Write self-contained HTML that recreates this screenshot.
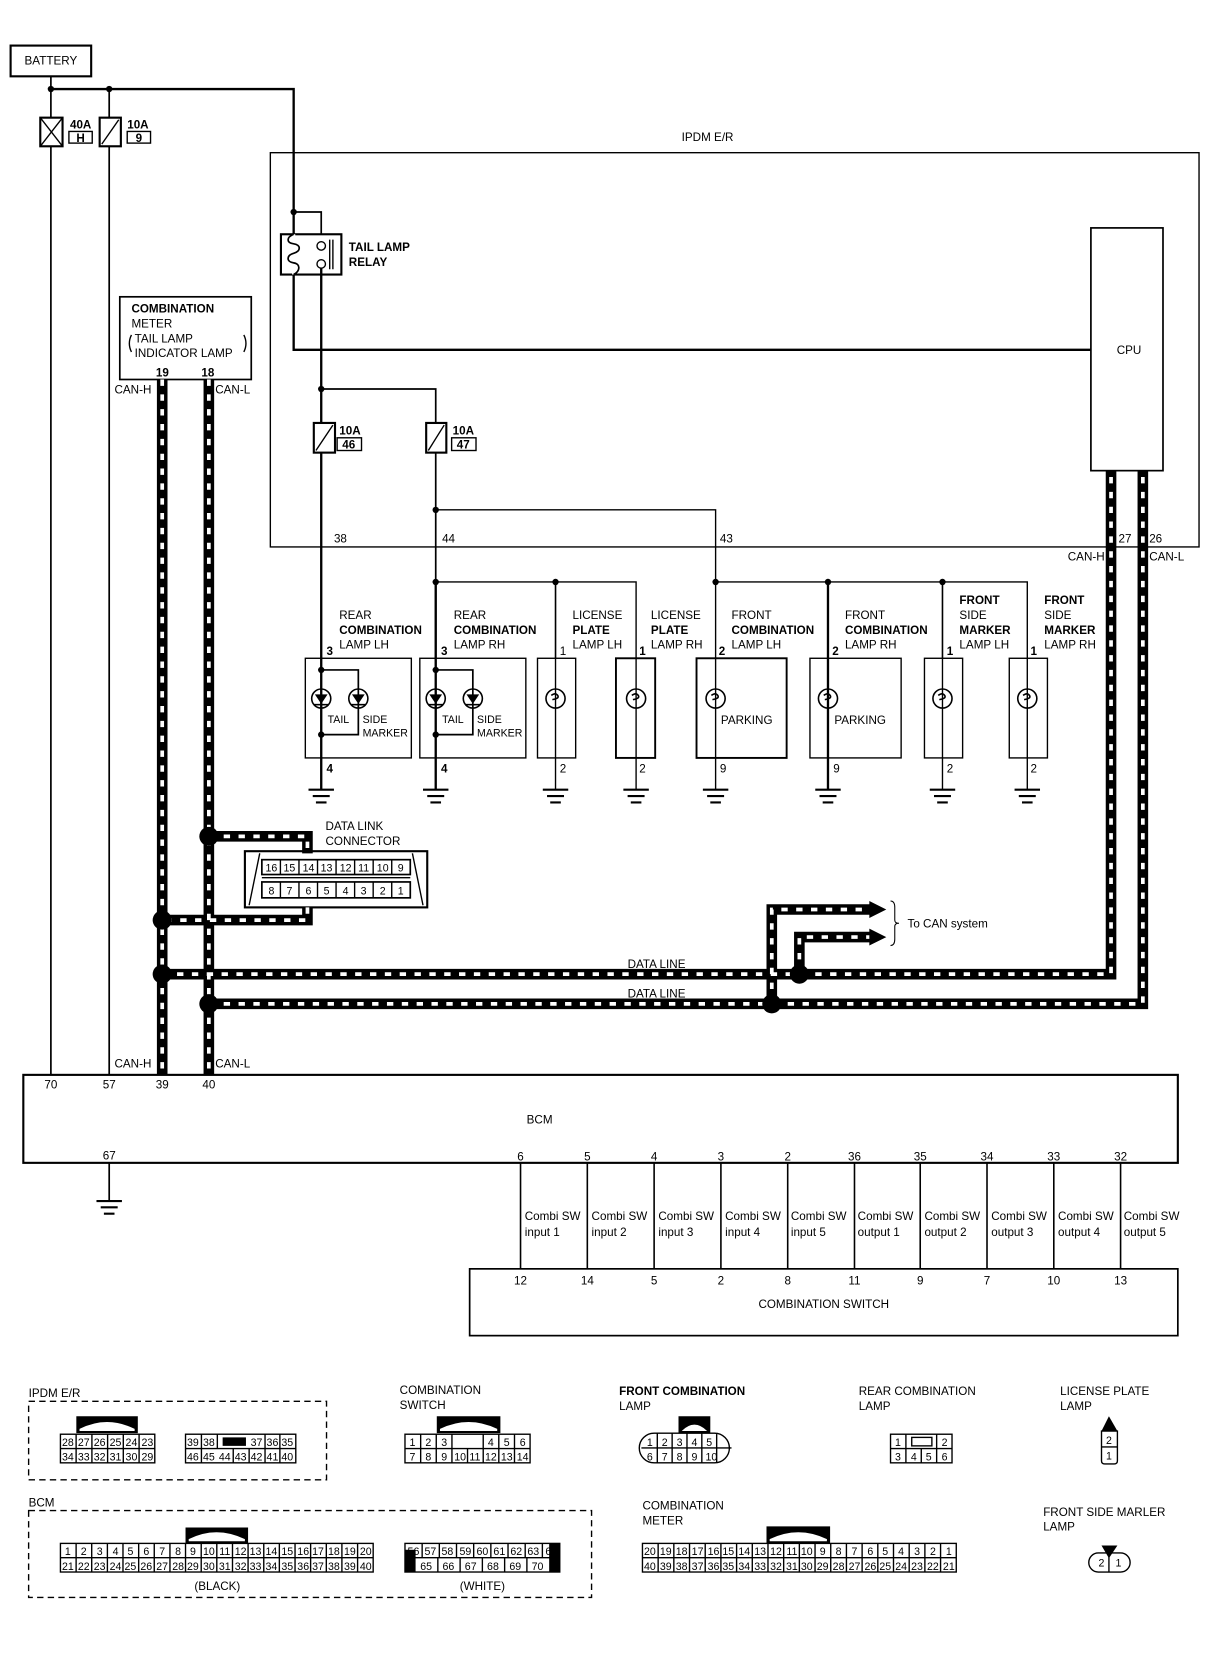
<!DOCTYPE html>
<html><head><meta charset="utf-8"><style>
html,body{margin:0;padding:0;background:#fff}
svg{display:block}
text{font-family:"Liberation Sans",Arial,sans-serif;font-size:11px;fill:#000}
.b{font-weight:bold}
.s{font-size:10px}
.g text{font-size:10px;text-anchor:middle}
</style></head><body>
<svg width="1216" height="1660" viewBox="0 0 1147 1566" preserveAspectRatio="none" xmlns="http://www.w3.org/2000/svg">
<g fill="none" stroke="#000" stroke-width="1.3">
<rect x="10" y="43" width="76" height="29" stroke-width="2"/>
<path d="M48 72V111M48 138V1014M103 84V111M103 138V1014" stroke-width="1.6"/>
<path d="M48 84H277V330H1029" stroke-width="2.2"/>
<rect x="38" y="111" width="21" height="27" stroke-width="2"/>
<path d="M38 111L59 138M59 111L38 138"/>
<rect x="94" y="111" width="20" height="27" stroke-width="2"/>
<path d="M96 136L112 113"/>
<rect x="65" y="124" width="22" height="11"/>
<rect x="120" y="124" width="22" height="11"/>
<path d="M255 144H1131V516H255Z" stroke-width="1.3"/>
<path d="M277 200H303V228" stroke-width="1.6"/>
<rect x="265" y="221" width="57" height="38" stroke-width="2" fill="#fff"/>
<path d="M277 221V259" stroke="#fff" stroke-width="3"/>
<path d="M277 221c-7 3-7 8 0 9c7 1 7 7 0 9c-7 2-7 8 0 9c7 1 6 8 0 11" stroke-width="1.6"/>
<circle cx="303" cy="232" r="4"/><circle cx="303" cy="249" r="4"/>
<path d="M311 226V254M314 226V254" />
<path d="M303 253V632" stroke-width="2.2"/>
<path d="M303 367H411V632" stroke-width="1.6"/>
<path d="M411 481H675V549" stroke-width="1.3"/>
<rect x="296" y="399" width="20" height="28" stroke-width="2" fill="#fff"/>
<path d="M298 425L314 401"/>
<rect x="318" y="413" width="23" height="12"/>
<rect x="402" y="399" width="19" height="28" stroke-width="2" fill="#fff"/>
<path d="M404 425L419 401"/>
<rect x="426" y="413" width="23" height="12"/>
<rect x="1029" y="215" width="68" height="229" stroke-width="1.6"/>
<rect x="113" y="280" width="124" height="78" stroke-width="1.6"/>
<path d="M124 316q-4 8 0 16M230 316q4 8 0 16"/>
<path d="M411 549H600V621M524 549V621" stroke-width="1.3"/>
<path d="M675 549H969V621M781 549V621M889 549V621" stroke-width="1.3"/>
<path d="M411 549V632" stroke-width="2.2"/>
<path d="M781 549V745" stroke-width="2.2"/>
<path d="M524 549V745M600 621V745M675 549V745M889 549V745M969 621V745" stroke-width="1.3"/>
<path d="M303 632V745M411 632V745" stroke-width="2.2"/>
<rect x="288" y="621" width="100" height="94"/>
<rect x="396" y="621" width="100" height="94"/>
<rect x="507" y="621" width="36" height="94"/>
<rect x="581" y="621" width="37" height="94" stroke-width="1.8"/>
<rect x="657" y="621" width="85" height="94" stroke-width="1.8"/>
<rect x="764" y="621" width="86" height="94"/>
<rect x="872" y="621" width="36" height="94"/>
<rect x="952" y="621" width="36" height="94"/>
<path d="M303 632H338V693H303M411 632H446V693H411" stroke-width="1.6"/>
<g stroke-width="1.5">
<circle cx="303" cy="659" r="9"/><circle cx="338" cy="659" r="9"/>
<circle cx="411" cy="659" r="9"/><circle cx="446" cy="659" r="9"/>
</g>
<g stroke-width="1.5">
<circle cx="524" cy="659" r="9"/><circle cx="600" cy="659" r="9"/>
<circle cx="675" cy="659" r="9"/><circle cx="781" cy="659" r="9"/>
<circle cx="889" cy="659" r="9"/><circle cx="969" cy="659" r="9"/>
<path d="M520 656q4-3 6 0t-5 4M596 656q4-3 6 0t-5 4M671 656q4-3 6 0t-5 4M777 656q4-3 6 0t-5 4M885 656q4-3 6 0t-5 4M965 656q4-3 6 0t-5 4"/>
</g>
<path d="M291 745H315M295 751H311M298 757H308M399 745H423M403 751H419M406 757H416M512 745H536M516 751H532M519 757H529M588 745H612M592 751H608M595 757H605M663 745H687M667 751H683M670 757H680M769 745H793M773 751H789M776 757H786M877 745H901M881 751H897M884 757H894M957 745H981M961 751H977M964 757H974" stroke-width="2"/>
<rect x="22" y="1014" width="1089" height="83" stroke-width="2"/>
<path d="M103 1097V1133" stroke-width="1.6"/>
<path d="M91 1133H115M95 1139H111M98 1145H108" stroke-width="2"/>
<path d="M491 1097V1197M554 1097V1197M617 1097V1197M680 1097V1197M743 1097V1197M806 1097V1197M868 1097V1197M931 1097V1197M994 1097V1197M1057 1097V1197" stroke-width="1.5"/>
<rect x="443" y="1197" width="668" height="63" stroke-width="1.6"/>
<rect x="231" y="803" width="172" height="53" stroke-width="2"/>
<path d="M245 805L235 854M389 805L399 854"/>
<rect x="247" y="811" width="140" height="14" stroke-width="1.6"/>
<rect x="247" y="832" width="140" height="15" stroke-width="1.6"/>
<path d="M247 828H387"/>
<path d="M264.5 811V825M282 811V825M299.5 811V825M317 811V825M334.5 811V825M352 811V825M369.5 811V825M264.5 832V847M282 832V847M299.5 832V847M317 832V847M334.5 832V847M352 832V847M369.5 832V847"/>
</g>
<g fill="none" stroke-linejoin="miter">
<path d="M153 358V1014M197 358V1014M197 789H290V805M290 856V868H153M153 919H1048V444M197 947H1078V444M728 947V858H822M754 919V884H822" stroke="#000" stroke-width="10"/>
<path d="M153 358V1014M197 358V1014M197 789H290V805M290 856V868H153M153 919H1048V444M197 947H1078V444M728 947V858H822M754 919V884H822" stroke="#fff" stroke-width="3.5" stroke-dasharray="6 8"/>
</g>
<g fill="#000">
<path d="M820 850L836 858L820 866ZM820 876L836 884L820 892Z"/>
<circle cx="153" cy="868" r="9"/><circle cx="197" cy="789" r="9"/>
<circle cx="153" cy="919" r="9"/><circle cx="197" cy="947" r="9"/>
<circle cx="754" cy="919" r="9"/><circle cx="728" cy="947" r="9"/>
<circle cx="48" cy="84" r="3"/><circle cx="103" cy="84" r="3"/>
<circle cx="277" cy="200" r="3"/><circle cx="303" cy="367" r="3"/>
<circle cx="411" cy="481" r="3"/><circle cx="411" cy="549" r="3"/><circle cx="524" cy="549" r="3"/>
<circle cx="675" cy="549" r="3"/><circle cx="781" cy="549" r="3"/><circle cx="889" cy="549" r="3"/>
<circle cx="303" cy="632" r="3"/><circle cx="303" cy="693" r="3"/>
<circle cx="411" cy="632" r="3"/><circle cx="411" cy="693" r="3"/>
<path d="M297 655H309L303 664ZM332 655H344L338 664ZM405 655H417L411 664ZM440 655H452L446 664Z"/>
<rect x="296" y="664" width="14" height="1.5"/><rect x="331" y="664" width="14" height="1.5"/>
<rect x="404" y="664" width="14" height="1.5"/><rect x="439" y="664" width="14" height="1.5"/>
</g>
<path d="M840 850q4 0 4 6v12q0 3 4 3q-4 0-4 3v12q0 6-4 6" fill="none" stroke="#000" stroke-width="1"/>
<text x="48" y="61" text-anchor="middle">BATTERY</text>
<text x="66" y="121" class="b">40A</text><text x="76" y="134" text-anchor="middle" class="b">H</text>
<text x="120" y="121" class="b">10A</text><text x="131" y="134" text-anchor="middle" class="b">9</text>
<text x="643" y="133">IPDM E/R</text>
<text x="329" y="237" class="b">TAIL LAMP</text><text x="329" y="251" class="b">RELAY</text>
<text x="1065" y="334" text-anchor="middle">CPU</text>
<text x="124" y="295" class="b">COMBINATION</text><text x="124" y="309">METER</text>
<text x="127" y="323">TAIL LAMP</text><text x="127" y="337">INDICATOR LAMP</text>
<text x="147" y="355" class="b">19</text><text x="190" y="355" class="b">18</text>
<text x="108" y="371">CAN-H</text><text x="203" y="371">CAN-L</text>
<text x="320" y="410" class="b">10A</text><text x="329" y="423" text-anchor="middle" class="b">46</text>
<text x="427" y="410" class="b">10A</text><text x="437" y="423" text-anchor="middle" class="b">47</text>
<text x="315" y="512">38</text><text x="417" y="512">44</text><text x="679" y="512">43</text>
<text x="1055" y="512">27</text><text x="1084" y="512">26</text>
<text x="1042" y="529" text-anchor="end">CAN-H</text><text x="1084" y="529">CAN-L</text>
<text x="320" y="584">REAR</text><text x="320" y="598" class="b">COMBINATION</text><text x="320" y="612">LAMP LH</text>
<text x="428" y="584">REAR</text><text x="428" y="598" class="b">COMBINATION</text><text x="428" y="612">LAMP RH</text>
<text x="540" y="584">LICENSE</text><text x="540" y="598" class="b">PLATE</text><text x="540" y="612">LAMP LH</text>
<text x="614" y="584">LICENSE</text><text x="614" y="598" class="b">PLATE</text><text x="614" y="612">LAMP RH</text>
<text x="690" y="584">FRONT</text><text x="690" y="598" class="b">COMBINATION</text><text x="690" y="612">LAMP LH</text>
<text x="797" y="584">FRONT</text><text x="797" y="598" class="b">COMBINATION</text><text x="797" y="612">LAMP RH</text>
<text x="905" y="570" class="b">FRONT</text><text x="905" y="584">SIDE</text><text x="905" y="598" class="b">MARKER</text><text x="905" y="612">LAMP LH</text>
<text x="985" y="570" class="b">FRONT</text><text x="985" y="584">SIDE</text><text x="985" y="598" class="b">MARKER</text><text x="985" y="612">LAMP RH</text>
<text x="308" y="618" class="b">3</text><text x="416" y="618" class="b">3</text><text x="528" y="618">1</text><text x="603" y="618" class="b">1</text>
<text x="678" y="618" class="b">2</text><text x="785" y="618" class="b">2</text><text x="893" y="618" class="b">1</text><text x="972" y="618" class="b">1</text>
<text x="309" y="682" class="s">TAIL</text><text x="342" y="682" class="s">SIDE</text><text x="342" y="695" class="s">MARKER</text>
<text x="417" y="682" class="s">TAIL</text><text x="450" y="682" class="s">SIDE</text><text x="450" y="695" class="s">MARKER</text>
<text x="680" y="683">PARKING</text><text x="787" y="683">PARKING</text>
<text x="308" y="729" class="b">4</text><text x="416" y="729" class="b">4</text><text x="528" y="729">2</text><text x="603" y="729">2</text>
<text x="679" y="729">9</text><text x="786" y="729">9</text><text x="893" y="729">2</text><text x="972" y="729">2</text>
<text x="307" y="783">DATA LINK</text><text x="307" y="797">CONNECTOR</text>
<g class="g">
<text x="256" y="822">16</text><text x="273" y="822">15</text><text x="291" y="822">14</text><text x="308" y="822">13</text><text x="326" y="822">12</text><text x="343" y="822">11</text><text x="361" y="822">10</text><text x="378" y="822">9</text>
<text x="256" y="844">8</text><text x="273" y="844">7</text><text x="291" y="844">6</text><text x="308" y="844">5</text><text x="326" y="844">4</text><text x="343" y="844">3</text><text x="361" y="844">2</text><text x="378" y="844">1</text>
</g>
<text x="856" y="875">To CAN system</text>
<text x="592" y="913">DATA LINE</text><text x="592" y="941">DATA LINE</text>
<text x="108" y="1007">CAN-H</text><text x="203" y="1007">CAN-L</text>
<text x="48" y="1027" text-anchor="middle">70</text><text x="103" y="1027" text-anchor="middle">57</text>
<text x="153" y="1027" text-anchor="middle">39</text><text x="197" y="1027" text-anchor="middle">40</text>
<text x="509" y="1060" text-anchor="middle">BCM</text>
<text x="103" y="1094" text-anchor="middle">67</text>
<g>
<text x="491" y="1095" style="text-anchor:middle">6</text><text x="554" y="1095" style="text-anchor:middle">5</text><text x="617" y="1095" style="text-anchor:middle">4</text><text x="680" y="1095" style="text-anchor:middle">3</text><text x="743" y="1095" style="text-anchor:middle">2</text>
<text x="806" y="1095" style="text-anchor:middle">36</text><text x="868" y="1095" style="text-anchor:middle">35</text><text x="931" y="1095" style="text-anchor:middle">34</text><text x="994" y="1095" style="text-anchor:middle">33</text><text x="1057" y="1095" style="text-anchor:middle">32</text>
<text x="491" y="1212" style="text-anchor:middle">12</text><text x="554" y="1212" style="text-anchor:middle">14</text><text x="617" y="1212" style="text-anchor:middle">5</text><text x="680" y="1212" style="text-anchor:middle">2</text><text x="743" y="1212" style="text-anchor:middle">8</text>
<text x="806" y="1212" style="text-anchor:middle">11</text><text x="868" y="1212" style="text-anchor:middle">9</text><text x="931" y="1212" style="text-anchor:middle">7</text><text x="994" y="1212" style="text-anchor:middle">10</text><text x="1057" y="1212" style="text-anchor:middle">13</text>
</g>
<g class="s">
<text x="495" y="1151">Combi SW</text><text x="495" y="1166">input 1</text>
<text x="558" y="1151">Combi SW</text><text x="558" y="1166">input 2</text>
<text x="621" y="1151">Combi SW</text><text x="621" y="1166">input 3</text>
<text x="684" y="1151">Combi SW</text><text x="684" y="1166">input 4</text>
<text x="746" y="1151">Combi SW</text><text x="746" y="1166">input 5</text>
<text x="809" y="1151">Combi SW</text><text x="809" y="1166">output 1</text>
<text x="872" y="1151">Combi SW</text><text x="872" y="1166">output 2</text>
<text x="935" y="1151">Combi SW</text><text x="935" y="1166">output 3</text>
<text x="998" y="1151">Combi SW</text><text x="998" y="1166">output 4</text>
<text x="1060" y="1151">Combi SW</text><text x="1060" y="1166">output 5</text>
</g>
<text x="777" y="1234" text-anchor="middle">COMBINATION SWITCH</text>

<g fill="none" stroke="#000" stroke-width="1.3">
<rect x="27" y="1322" width="281" height="74" stroke-dasharray="6 4"/>
<rect x="27" y="1425" width="531" height="82" stroke-dasharray="6 4"/>
<rect x="57" y="1353" width="89" height="27"/><path d="M57 1366.5H146M71.8 1353V1380M86.7 1353V1380M101.5 1353V1380M116.3 1353V1380M131.2 1353V1380"/>
<rect x="175" y="1353" width="104" height="27"/><path d="M175 1366.5H279M190 1353V1380M205 1353V1366M250 1353V1380M264 1353V1380M220 1366V1380M235 1366V1380"/>
<rect x="382" y="1353" width="118" height="27"/><path d="M382 1366.5H500M396.8 1353V1380M411.5 1353V1380M426.3 1353V1380M441 1366V1380M455.8 1353V1380M470.5 1353V1380M485.3 1353V1380"/>
<path d="M617 1352H674A14 14 0 0 1 674 1380H617A14 14 0 0 1 617 1352ZM605 1366H690M620 1352V1380M634 1352V1380M648 1352V1380M662 1352V1380M676 1352V1380"/>
<rect x="840" y="1353" width="58" height="27"/><path d="M840 1366.5H898M854.5 1353V1380M869 1366V1380M883.5 1353V1380"/>
<rect x="860" y="1356" width="19" height="8"/>
<path d="M1039 1350H1054V1378Q1054 1381 1051 1381H1042Q1039 1381 1039 1378ZM1039 1365H1054"/>
<path d="M1036 1465H1057A9 9 0 0 1 1057 1483H1036A9 9 0 0 1 1036 1465ZM1046 1465V1483"/>
<rect x="57" y="1456" width="295" height="27"/>
<path d="M57 1469.5H352M71.8 1456V1483M86.5 1456V1483M101.3 1456V1483M116 1456V1483M130.8 1456V1483M145.5 1456V1483M160.3 1456V1483M175 1456V1483M189.8 1456V1483M204.5 1456V1483M219.3 1456V1483M234 1456V1483M248.8 1456V1483M263.5 1456V1483M278.3 1456V1483M293 1456V1483M307.8 1456V1483M322.5 1456V1483M337.3 1456V1483"/>
<rect x="382" y="1456" width="146" height="27"/>
<path d="M382 1469.5H528M398.2 1456V1469M414.4 1456V1469M430.6 1456V1469M446.8 1456V1469M463 1456V1469M479.2 1456V1469M495.4 1456V1469M511.6 1456V1469M413 1469V1483M434 1469V1483M455 1469V1483M476 1469V1483M497 1469V1483"/>
<rect x="606" y="1456" width="296" height="27"/>
<path d="M606 1469.5H902M620.8 1456V1483M635.6 1456V1483M650.4 1456V1483M665.2 1456V1483M680 1456V1483M694.8 1456V1483M709.6 1456V1483M724.4 1456V1483M739.2 1456V1483M754 1456V1483M768.8 1456V1483M783.6 1456V1483M798.4 1456V1483M813.2 1456V1483M828 1456V1483M842.8 1456V1483M857.6 1456V1483M872.4 1456V1483M887.2 1456V1483"/>
</g>
<g fill="#000">
<path d="M72 1336H130V1352H72Z"/><path d="M412 1336H472V1352H412Z"/><path d="M175 1441H234V1456H175Z"/><path d="M723 1440H783V1456H723Z"/>
<path d="M640 1336H670V1352H640Z"/>
<rect x="210" y="1356" width="22" height="8"/>
<rect x="382" y="1462" width="10" height="21"/><rect x="518" y="1456" width="10" height="27"/>
<path d="M1046 1336L1054 1350H1039Z"/><path d="M1039 1458H1054L1046 1470Z"/>
</g>
<g fill="#fff">
<path d="M75 1348Q101 1335 127 1348V1350H75Z"/><path d="M415 1348Q442 1335 469 1348V1350H415Z"/><path d="M178 1452Q204 1439 231 1452V1454H178Z"/><path d="M726 1452Q753 1439 780 1452V1454H726Z"/><path d="M643 1350Q655 1338 667 1350Z"/>
</g>
<text x="27" y="1318">IPDM E/R</text>
<text x="377" y="1315">COMBINATION</text><text x="377" y="1329">SWITCH</text>
<text x="584" y="1316" class="b">FRONT COMBINATION</text><text x="584" y="1330">LAMP</text>
<text x="810" y="1316">REAR COMBINATION</text><text x="810" y="1330">LAMP</text>
<text x="1000" y="1316">LICENSE PLATE</text><text x="1000" y="1330">LAMP</text>
<text x="27" y="1421">BCM</text>
<text x="606" y="1424">COMBINATION</text><text x="606" y="1438">METER</text>
<text x="984" y="1430">FRONT SIDE MARLER</text><text x="984" y="1444">LAMP</text>
<text x="205" y="1500" text-anchor="middle">(BLACK)</text><text x="455" y="1500" text-anchor="middle">(WHITE)</text>
<g class="g">
<text x="64" y="1364">28</text><text x="79" y="1364">27</text><text x="94" y="1364">26</text><text x="109" y="1364">25</text><text x="124" y="1364">24</text><text x="139" y="1364">23</text>
<text x="64" y="1378">34</text><text x="79" y="1378">33</text><text x="94" y="1378">32</text><text x="109" y="1378">31</text><text x="124" y="1378">30</text><text x="139" y="1378">29</text>
<text x="182" y="1364">39</text><text x="197" y="1364">38</text><text x="242" y="1364">37</text><text x="257" y="1364">36</text><text x="271" y="1364">35</text>
<text x="182" y="1378">46</text><text x="197" y="1378">45</text><text x="212" y="1378">44</text><text x="227" y="1378">43</text><text x="242" y="1378">42</text><text x="257" y="1378">41</text><text x="271" y="1378">40</text>
<text x="389" y="1364">1</text><text x="404" y="1364">2</text><text x="419" y="1364">3</text><text x="463" y="1364">4</text><text x="478" y="1364">5</text><text x="493" y="1364">6</text>
<text x="389" y="1378">7</text><text x="404" y="1378">8</text><text x="419" y="1378">9</text><text x="434" y="1378">10</text><text x="448" y="1378">11</text><text x="463" y="1378">12</text><text x="478" y="1378">13</text><text x="493" y="1378">14</text>
<text x="613" y="1364">1</text><text x="627" y="1364">2</text><text x="641" y="1364">3</text><text x="655" y="1364">4</text><text x="669" y="1364">5</text>
<text x="613" y="1378">6</text><text x="627" y="1378">7</text><text x="641" y="1378">8</text><text x="655" y="1378">9</text><text x="671" y="1378">10</text>
<text x="847" y="1364">1</text><text x="891" y="1364">2</text>
<text x="847" y="1378">3</text><text x="862" y="1378">4</text><text x="876" y="1378">5</text><text x="891" y="1378">6</text>
<text x="1046" y="1362">2</text><text x="1046" y="1377">1</text>
<text x="1039" y="1478">2</text><text x="1055" y="1478">1</text>
<text x="64" y="1467">1</text><text x="79" y="1467">2</text><text x="94" y="1467">3</text><text x="109" y="1467">4</text><text x="123" y="1467">5</text><text x="138" y="1467">6</text><text x="153" y="1467">7</text><text x="168" y="1467">8</text><text x="182" y="1467">9</text><text x="197" y="1467">10</text>
<text x="212" y="1467">11</text><text x="227" y="1467">12</text><text x="241" y="1467">13</text><text x="256" y="1467">14</text><text x="271" y="1467">15</text><text x="286" y="1467">16</text><text x="300" y="1467">17</text><text x="315" y="1467">18</text><text x="330" y="1467">19</text><text x="345" y="1467">20</text>
<text x="64" y="1481">21</text><text x="79" y="1481">22</text><text x="94" y="1481">23</text><text x="109" y="1481">24</text><text x="123" y="1481">25</text><text x="138" y="1481">26</text><text x="153" y="1481">27</text><text x="168" y="1481">28</text><text x="182" y="1481">29</text><text x="197" y="1481">30</text>
<text x="212" y="1481">31</text><text x="227" y="1481">32</text><text x="241" y="1481">33</text><text x="256" y="1481">34</text><text x="271" y="1481">35</text><text x="286" y="1481">36</text><text x="300" y="1481">37</text><text x="315" y="1481">38</text><text x="330" y="1481">39</text><text x="345" y="1481">40</text>
<text x="390" y="1467">56</text><text x="406" y="1467">57</text><text x="422" y="1467">58</text><text x="439" y="1467">59</text><text x="455" y="1467">60</text><text x="471" y="1467">61</text><text x="487" y="1467">62</text><text x="503" y="1467">63</text><text x="520" y="1467" style="fill:#000">64</text>
<text x="402" y="1481">65</text><text x="423" y="1481">66</text><text x="444" y="1481">67</text><text x="465" y="1481">68</text><text x="486" y="1481">69</text><text x="507" y="1481">70</text>
<text x="613" y="1467">20</text><text x="628" y="1467">19</text><text x="643" y="1467">18</text><text x="658" y="1467">17</text><text x="673" y="1467">16</text><text x="687" y="1467">15</text><text x="702" y="1467">14</text><text x="717" y="1467">13</text><text x="732" y="1467">12</text><text x="747" y="1467">11</text>
<text x="761" y="1467">10</text><text x="776" y="1467">9</text><text x="791" y="1467">8</text><text x="806" y="1467">7</text><text x="821" y="1467">6</text><text x="835" y="1467">5</text><text x="850" y="1467">4</text><text x="865" y="1467">3</text><text x="880" y="1467">2</text><text x="895" y="1467">1</text>
<text x="613" y="1481">40</text><text x="628" y="1481">39</text><text x="643" y="1481">38</text><text x="658" y="1481">37</text><text x="673" y="1481">36</text><text x="687" y="1481">35</text><text x="702" y="1481">34</text><text x="717" y="1481">33</text><text x="732" y="1481">32</text><text x="747" y="1481">31</text>
<text x="761" y="1481">30</text><text x="776" y="1481">29</text><text x="791" y="1481">28</text><text x="806" y="1481">27</text><text x="821" y="1481">26</text><text x="835" y="1481">25</text><text x="850" y="1481">24</text><text x="865" y="1481">23</text><text x="880" y="1481">22</text><text x="895" y="1481">21</text>
</g>
</svg>
</body></html>
